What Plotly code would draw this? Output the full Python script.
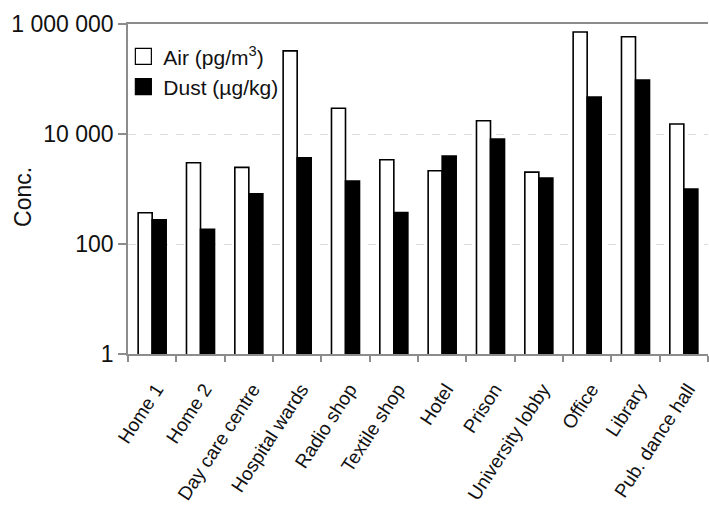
import plotly.graph_objects as go

categories = ["Home 1", "Home 2", "Day care centre", "Hospital wards", "Radio shop",
              "Textile shop", "Hotel", "Prison", "University lobby", "Office",
              "Library", "Pub. dance hall"]
air = [370, 3000, 2470, 325000, 29300, 3400, 2150, 17400, 2030, 716000, 588000, 15200]
dust = [275, 185, 820, 3700, 1400, 375, 3980, 8100, 1580, 47000, 95800, 1000]
ytick_vals = [1, 100, 10000, 1000000]
ytick_text = ["1", "100", "10 000", "1 000 000"]

FONT = "Liberation Sans, Arial, sans-serif"

fig = go.Figure()
fig.add_trace(go.Bar(x=categories, y=air, name="Air (pg/m<sup>3</sup>)",
                     marker=dict(color="white", line=dict(color="black", width=1.6)),
                     showlegend=False))
fig.add_trace(go.Bar(x=categories, y=dust, name="Dust (µg/kg)",
                     marker=dict(color="black", line=dict(color="black", width=1.6)),
                     showlegend=False))
# legend entries
fig.add_trace(go.Scatter(x=[None], y=[None], mode="markers", name="Air (pg/m<sup>3</sup>)",
                         marker=dict(symbol="square", size=16, color="white",
                                     line=dict(color="black", width=1.2))))
fig.add_trace(go.Scatter(x=[None], y=[None], mode="markers", name="Dust (µg/kg)",
                         marker=dict(symbol="square", size=16, color="black",
                                     line=dict(color="black", width=1.2))))

fig.update_layout(
    width=709, height=506,
    margin=dict(l=128, r=1, t=24, b=152),
    paper_bgcolor="white", plot_bgcolor="white",
    font=dict(family=FONT, size=20, color="#111111"),
    barmode="group", bargap=0.42, bargroupgap=0,
    legend=dict(x=-0.008, y=0.963, xanchor="left", yanchor="top",
                bgcolor="rgba(0,0,0,0)", font=dict(size=21),
                itemsizing="trace", tracegroupgap=0),
    xaxis=dict(type="category", showline=True, linecolor="#8c8c8c", linewidth=1.5,
               mirror=True, ticks="outside", ticklen=6, tickcolor="#8c8c8c",
               tickwidth=1.5, tickson="boundaries", tickangle=-57,
               ticklabelstandoff=15, ticklabelshift=4,
               tickfont=dict(size=19), showgrid=False, automargin=False),
    yaxis=dict(type="log", range=[0, 6], tickvals=ytick_vals, ticktext=ytick_text,
               showline=True, linecolor="#8c8c8c", linewidth=1.5,
               ticks="outside", ticklen=8, tickcolor="#8c8c8c", tickwidth=1.5,
               tickfont=dict(size=23), showgrid=True, gridcolor="#dcdcdc",
               griddash="8px,8px", gridwidth=1, zeroline=False, automargin=False),
)
fig.add_annotation(text="Conc.", xref="paper", yref="paper",
                   x=-0.181, y=0.476, textangle=-90, showarrow=False,
                   font=dict(size=23), xanchor="center", yanchor="middle")

fig.write_html("out.html", post_script="document.body.style.margin='0';",
               config={"displayModeBar": False})
